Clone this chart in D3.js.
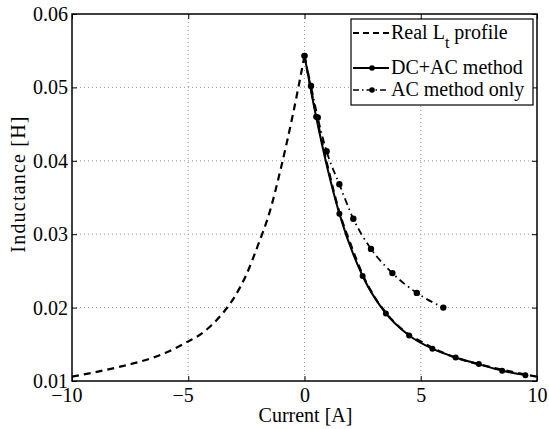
<!DOCTYPE html>
<html>
<head>
<meta charset="utf-8">
<script src="https://cdn.jsdelivr.net/npm/d3@7"></script>
<style>
body { margin: 0; background: #fff; }
text { font-family: "Liberation Serif", "Times New Roman", "DejaVu Serif", serif; fill: #000; }
</style>
</head>
<body>
<div id="chart"></div>
<script>
// data
var realI = [-10, -9, -8, -7, -6, -5, -4.5, -4, -3.5, -3, -2.5, -2, -1.5, -1, -0.5, 0,
             0.5, 1, 1.5, 2, 2.5, 3, 3.5, 4, 4.5, 5, 6, 7, 8, 9, 10];
var realL = [0.0106, 0.0112, 0.0119, 0.0127, 0.0138, 0.0154, 0.0163, 0.0176, 0.0193, 0.0215, 0.0245, 0.0285, 0.0330, 0.0392, 0.0463, 0.0543,
             0.0463, 0.0392, 0.0330, 0.0285, 0.0245, 0.0215, 0.0193, 0.0176, 0.0163, 0.0154, 0.0138, 0.0127, 0.0119, 0.0112, 0.0106];

var dcacI = [0, 0.5, 1.5, 2.5, 3.5, 4.5, 5.5, 6.5, 7.5, 8.5, 9.5];
var dcacL = [0.0543, 0.0460, 0.0328, 0.0243, 0.0192, 0.0162, 0.0144, 0.0132, 0.0123, 0.0114, 0.0108];

var acI = [0, 0.28, 0.57, 0.95, 1.5, 2.1, 2.86, 3.78, 4.83, 5.97];
var acL = [0.0543, 0.0502, 0.0459, 0.0413, 0.0368, 0.0321, 0.0280, 0.0247, 0.0220, 0.0200];

var xTicks = [-10, -5, 0, 5, 10];
var yTicks = [0.01, 0.02, 0.03, 0.04, 0.05, 0.06];

var legendNames = ["Real L", "DC+AC method", "AC method only"];

// set the dimensions and margins of the graph
var margin = { top: 14, right: 12, bottom: 48, left: 72 },
    width = 549 - margin.left - margin.right,
    height = 429 - margin.top - margin.bottom;

var svg = d3.select("#chart").append("svg")
    .attr("width", 549)
    .attr("height", 429)
    .append("g")
    .attr("transform", "translate(" + margin.left + "," + margin.top + ")");

var x = d3.scaleLinear().domain([-10, 10]).range([0, width]);
var y = d3.scaleLinear().domain([0.01, 0.06]).range([height, 0]);

// grid
svg.append("g").selectAll("line")
    .data(xTicks.slice(1, -1))
    .enter().append("line")
    .attr("x1", d => x(d)).attr("x2", d => x(d))
    .attr("y1", 0).attr("y2", height)
    .attr("stroke", "#999").attr("stroke-width", 1)
    .attr("stroke-dasharray", "1,3");
svg.append("g").selectAll("line")
    .data(yTicks.slice(1, -1))
    .enter().append("line")
    .attr("x1", 0).attr("x2", width)
    .attr("y1", d => y(d)).attr("y2", d => y(d))
    .attr("stroke", "#999").attr("stroke-width", 1)
    .attr("stroke-dasharray", "1,3");

// axes (ticks inward, mirrored)
function styleAxis(g) {
    g.select(".domain").remove();
    g.selectAll("line").attr("stroke", "#000");
    g.selectAll("text").style("font-size", "20px")
        .style("font-family", "Liberation Serif, Times New Roman, serif");
}
var fmtY = d3.format(".2f");
var fmtX = function (d) { return d < 0 ? "\u2212" + Math.abs(d) : d; };

svg.append("g")
    .attr("transform", "translate(0," + height + ")")
    .call(d3.axisBottom(x).tickValues(xTicks).tickFormat(fmtX).tickSizeInner(-5).tickPadding(7))
    .call(styleAxis)
    .selectAll("text")
    // minus sign hangs to the left of the centred digits
    .attr("dx", d => d < 0 ? "-0.28em" : 0);
svg.append("g")
    .call(d3.axisTop(x).tickValues(xTicks).tickFormat("").tickSizeInner(-5))
    .call(styleAxis);
svg.append("g")
    .call(d3.axisLeft(y).tickValues(yTicks).tickFormat(fmtY).tickSizeInner(-5).tickPadding(4))
    .call(styleAxis);
svg.append("g")
    .attr("transform", "translate(" + width + ",0)")
    .call(d3.axisRight(y).tickValues(yTicks).tickFormat("").tickSizeInner(-5))
    .call(styleAxis);

svg.append("rect")
    .attr("width", width).attr("height", height)
    .attr("fill", "none").attr("stroke", "#000").attr("stroke-width", 1.5);

// lines
var line = d3.line()
    .x(function (d) { return x(d[0]); })
    .y(function (d) { return y(d[1]); })
    .curve(d3.curveMonotoneX);

var realLeft = realI.map((v, i) => [v, realL[i]]).filter(d => d[0] <= 0);
var realRight = realI.map((v, i) => [v, realL[i]]).filter(d => d[0] >= 0);
var dcac = dcacI.map((v, i) => [v, dcacL[i]]);
var ac = acI.map((v, i) => [v, acL[i]]);

svg.append("path").datum(realLeft).attr("d", line)
    .attr("fill", "none").attr("stroke", "#000").attr("stroke-width", 2.2)
    .attr("stroke-dasharray", "7,5");
svg.append("path").datum(realRight).attr("d", line)
    .attr("fill", "none").attr("stroke", "#000").attr("stroke-width", 2.2)
    .attr("stroke-dasharray", "7,5");

svg.append("path").datum(ac).attr("d", line)
    .attr("fill", "none").attr("stroke", "#000").attr("stroke-width", 1.8)
    .attr("stroke-dasharray", "7,4,1.5,4");
svg.append("g").selectAll("circle").data(ac).enter().append("circle")
    .attr("cx", d => x(d[0])).attr("cy", d => y(d[1])).attr("r", 3.2).attr("fill", "#000");

svg.append("path").datum(dcac).attr("d", line)
    .attr("fill", "none").attr("stroke", "#000").attr("stroke-width", 2);
svg.append("g").selectAll("circle").data(dcac).enter().append("circle")
    .attr("cx", d => x(d[0])).attr("cy", d => y(d[1])).attr("r", 3).attr("fill", "#000");

// legend
var lg = svg.append("g").attr("transform", "translate(" + (351 - margin.left) + "," + (19 - margin.top) + ")");
lg.append("rect").attr("width", 182).attr("height", 86)
    .attr("fill", "#fff").attr("stroke", "#000").attr("stroke-width", 1.2);

var rowY = [14, 49, 71];
var dashes = ["6,4", null, "6,3,1.5,3"];
var widths = [2, 2, 1.5];
legendNames.forEach(function (name, i) {
    lg.append("line")
        .attr("x1", 2).attr("x2", 38).attr("y1", rowY[i]).attr("y2", rowY[i])
        .attr("stroke", "#000").attr("stroke-width", widths[i])
        .attr("stroke-dasharray", dashes[i]);
    if (i > 0) {
        lg.append("circle").attr("cx", 21).attr("cy", rowY[i]).attr("r", 2.8).attr("fill", "#000");
    }
    var t = lg.append("text")
        .attr("x", 40).attr("y", rowY[i] + 6)
        .style("font-size", "20px")
        .text(name);
    if (i === 0) {
        t.append("tspan").attr("dy", 9).style("font-size", "16px").text("t");
        t.append("tspan").attr("dy", -9).style("font-size", "20px").text(" profile");
    }
});

// axis labels
svg.append("text")
    .attr("x", width / 2 + 1).attr("y", height + 41)
    .style("text-anchor", "middle").style("font-size", "20px")
    .text("Current [A]");
svg.append("text")
    .attr("transform", "rotate(-90)")
    .attr("x", -170).attr("y", -47)
    .style("text-anchor", "middle").style("font-size", "20px")
    .style("letter-spacing", "1.2px")
    .text("Inductance [H]");
</script>
</body>
</html>
